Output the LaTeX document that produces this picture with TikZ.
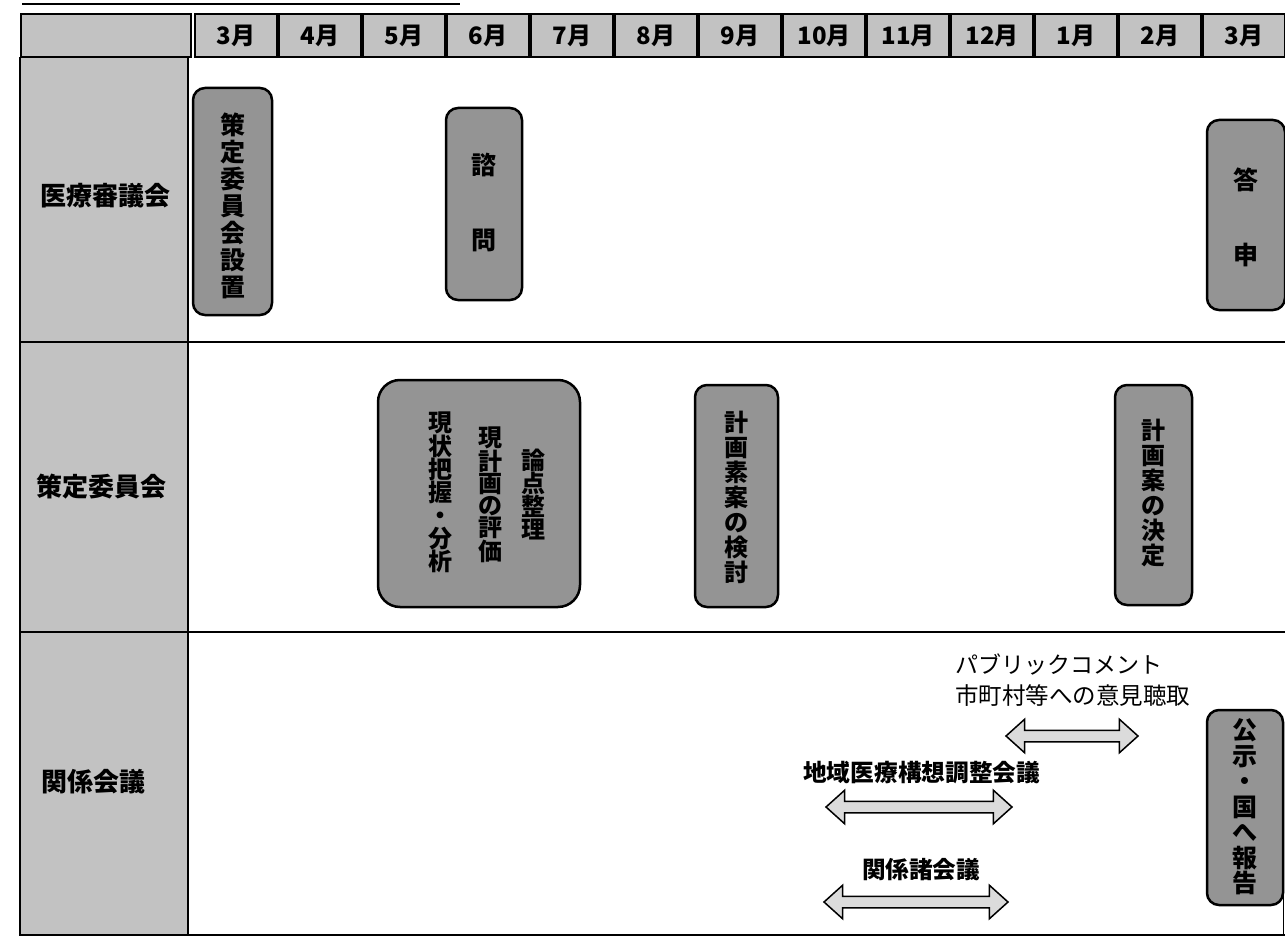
\documentclass[tikz,border=0pt]{standalone}
\usepackage{fontspec}
\newfontfamily\jp{Noto Sans CJK JP}
\usetikzlibrary{shapes.arrows}
\definecolor{cellgray}{gray}{0.76}
\definecolor{boxgray}{gray}{0.58}
\definecolor{arrowgray}{gray}{0.86}
\tikzset{
 hdr/.style={draw, line width=1.3pt, fill=cellgray},
 monthlbl/.style={font=\jp\bfseries\fontsize{24}{24}\selectfont},
 rowlbl/.style={font=\jp\bfseries\fontsize{26}{26}\selectfont},
 evbox/.style={draw, line width=2.5pt, rounded corners=12pt, fill=boxgray, align=center, inner sep=0pt},
 vtext/.style={align=center, inner sep=0pt, font=\jp\bfseries\fontsize{24}{25}\selectfont},
 darr/.style={double arrow, draw, line width=1.5pt, fill=arrowgray, inner sep=0pt, text height=0pt, text depth=0pt, inner ysep=5pt, double arrow head extend=11pt, double arrow tip angle=84},
 albl/.style={font=\jp\fontsize{23.5}{24}\selectfont, inner sep=0pt},
 grid/.style={line width=1.3pt}
}
\begin{document}
\begin{tikzpicture}[x=1pt,y=-1pt]
\useasboundingbox (0,0) rectangle (1285,947);
% title underline (cut off)
\coordinate (tl1) at (22,4);
\coordinate (tl2) at (460,4);
\draw[line width=1.8pt] (tl1) -- (tl2);
% header corner cell
\node[hdr, minimum width=170pt, minimum height=43pt, inner sep=0pt] (corner) at (106,35.5) {};
% month header cells
\foreach \m [count=\i from 0] in {3,4,5,6,7,8,9,10,11,12,1,2,3}{
  \node[hdr, minimum width=82pt, minimum height=43pt, inner sep=0pt] (mc\i) at ({236+84*\i},35.5) {};
  \node[monthlbl] (ml\i) at (mc\i) {\m 月};
}
% row label cells
\node[hdr, minimum width=168pt, minimum height=285pt, inner sep=0pt] (r1) at (104,200) {};
\node[hdr, minimum width=168pt, minimum height=290pt, inner sep=0pt] (r2) at (104,487) {};
\node[hdr, minimum width=168pt, minimum height=303pt, inner sep=0pt] (r3) at (104,783.5) {};
\node[rowlbl] (r1l) at (105,196) {医療審議会};
\node[rowlbl] (r2l) at (101,487) {策定委員会};
\node[rowlbl] (r3l) at (93,782) {関係会議};
% body grid lines
\coordinate (g1a) at (188,342); \coordinate (g1b) at (1285,342);
\coordinate (g2a) at (188,632); \coordinate (g2b) at (1285,632);
\coordinate (g3a) at (188,935); \coordinate (g3b) at (1285,935);
\draw[grid] (g1a) -- (g1b);
\draw[grid] (g2a) -- (g2b);
\draw[grid] (g3a) -- (g3b);
\coordinate (rb1) at (1283.5,860); \coordinate (rb2) at (1283.5,935);
\draw[grid] (rb1) -- (rb2);
% row 1 boxes
\node[evbox, minimum width=79pt, minimum height=227pt] (setchi) at (232.5,201.5) {};
\node[vtext, font=\jp\bfseries\fontsize{25}{27}\selectfont] (setchit) at (232.5,206) {策\\定\\委\\員\\会\\設\\置};
\node[evbox, minimum width=76pt, minimum height=192pt] (shimon) at (484,204) {};
\node[vtext, font=\jp\bfseries\fontsize{25}{75}\selectfont] (shimont) at (484,202) {諮\\問};
\node[evbox, minimum width=78pt, minimum height=190pt] (toshin) at (1246,215) {};
\node[vtext, font=\jp\bfseries\fontsize{25}{75}\selectfont] (toshint) at (1246,217) {答\\申};
% row 2 boxes
\node[evbox, minimum width=202pt, minimum height=227pt, rounded corners=22pt] (genjo) at (479,493.5) {};
\node[vtext, font=\jp\bfseries\fontsize{24}{23}\selectfont] (genjo1) at (440,492) {現\\状\\把\\握\\・\\分\\析};
\node[vtext, font=\jp\bfseries\fontsize{24}{22}\selectfont] (genjo2) at (490,495) {現\\計\\画\\の\\評\\価};
\node[vtext, font=\jp\bfseries\fontsize{24}{23}\selectfont] (genjo3) at (533,495) {論\\点\\整\\理};
\node[evbox, minimum width=83pt, minimum height=222pt] (soan) at (736.5,496) {};
\node[vtext] (soant) at (736.5,497) {計\\画\\素\\案\\の\\検\\討};
\node[evbox, minimum width=77pt, minimum height=220pt] (kettei) at (1153.5,495) {};
\node[vtext] (ketteit) at (1153.5,493) {計\\画\\案\\の\\決\\定};
% row 3
\node[evbox, minimum width=76pt, minimum height=195pt] (koji) at (1245,807.5) {};
\node[vtext, font=\jp\bfseries\fontsize{25}{25.5}\selectfont] (kojit) at (1245,807) {公\\示\\・\\国\\へ\\報\\告};
\node[albl, font=\jp\fontsize{23}{24}\selectfont, anchor=west] (pc1) at (955,665) {パブリックコメント};
\node[albl, anchor=west] (pc2) at (955,696) {市町村等への意見聴取};
\node[darr, minimum height=132pt, minimum width=30pt] (pcarr) at (1072,736) {};
\node[albl, font=\jp\bfseries\fontsize{23.7}{24}\selectfont, anchor=west] (chiiki) at (803,773) {地域医療構想調整会議};
\node[darr, minimum height=186pt, minimum width=32pt] (chiikiarr) at (919,807) {};
\node[albl, font=\jp\bfseries\fontsize{23.6}{24}\selectfont] (kankei) at (921,870) {関係諸会議};
\node[darr, minimum height=184pt, minimum width=32pt] (kankeiarr) at (916,902) {};
\end{tikzpicture}
\end{document}
